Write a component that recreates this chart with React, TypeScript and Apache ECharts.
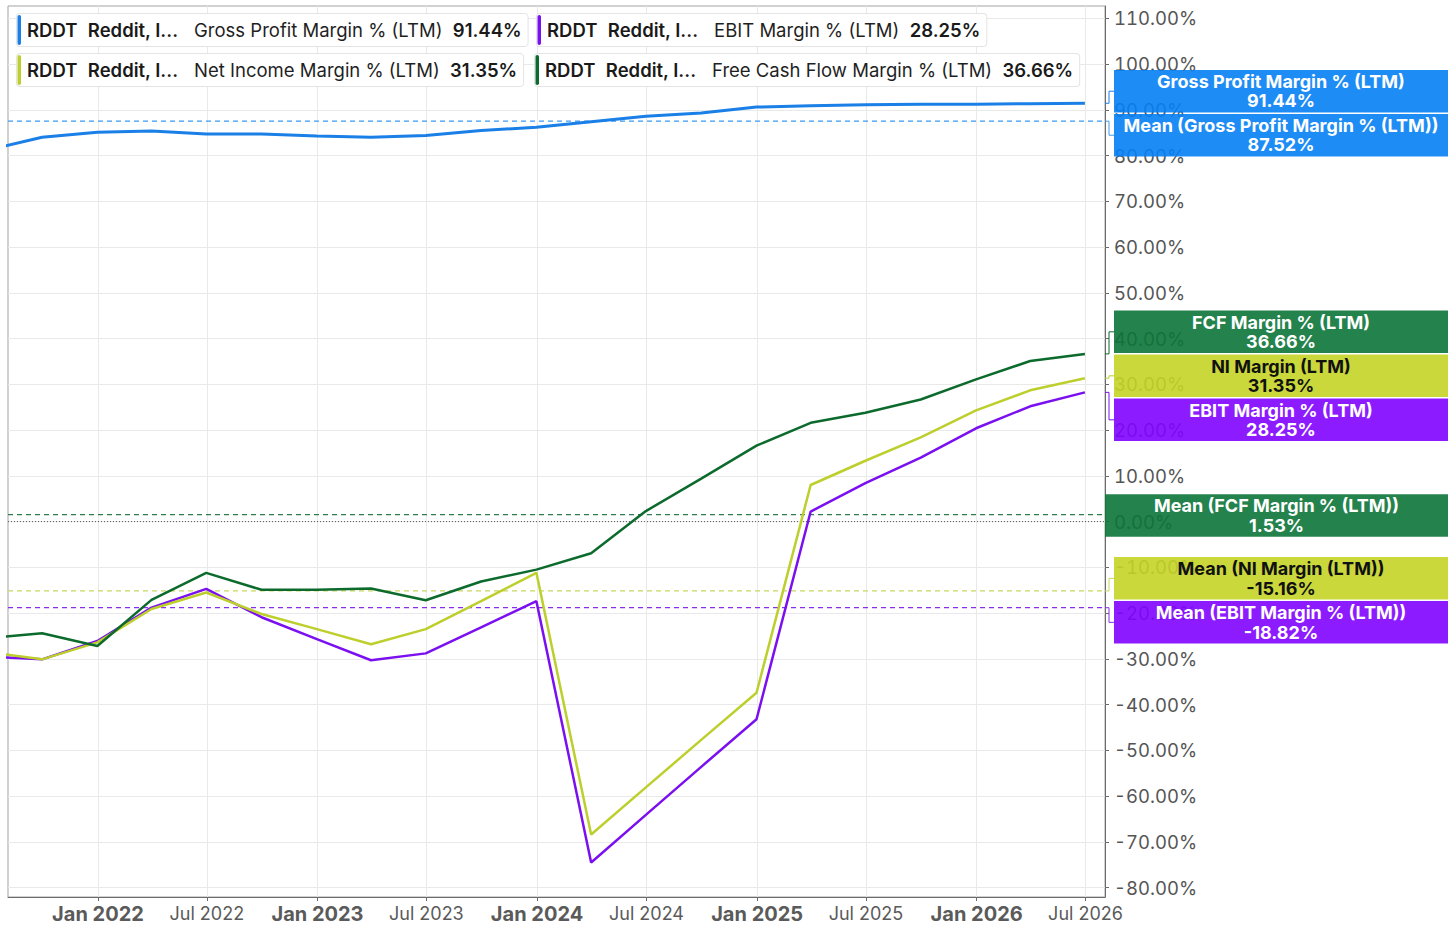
import React, { useEffect, useRef } from "react";
import * as echarts from "echarts";

// ---------- data ----------
const dates = [
  "2021-06-30", "2021-09-30", "2021-12-31", "2022-03-31", "2022-06-30", "2022-09-30",
  "2022-12-31", "2023-03-31", "2023-06-30", "2023-09-30", "2023-12-31", "2024-03-31",
  "2024-06-30", "2024-09-30", "2024-12-31", "2025-03-31", "2025-06-30", "2025-09-30",
  "2025-12-31", "2026-03-31", "2026-06-30",
];
const grossMargin = [81.15, 84.0, 85.1, 85.4, 84.7, 84.7, 84.3, 84.0, 84.4, 85.5, 86.2, 87.4, 88.6, 89.3, 90.6, 90.9, 91.1, 91.2, 91.2, 91.35, 91.44];
const ebitMargin = [-29.45, -30.1, -26.1, -18.8, -14.7, -20.9, -25.7, -30.3, -28.8, -23.1, -17.4, -74.5, -64.1, -53.6, -43.2, 2.2, 8.4, 14.0, 20.4, 25.2, 28.25];
const niMargin = [-28.5, -30.1, -26.4, -19.1, -15.5, -20.2, -23.5, -26.8, -23.5, -17.4, -11.2, -68.4, -58.1, -47.7, -37.4, 8.0, 13.3, 18.4, 24.3, 28.7, 31.35];
const fcfMargin = [-25.5, -24.4, -27.2, -17.1, -11.2, -14.9, -14.9, -14.6, -17.2, -13.1, -10.5, -6.9, 2.3, 9.4, 16.6, 21.6, 23.8, 26.7, 31.1, 35.1, 36.66];

const meanGross = 87.52;
const meanEbit = -18.82;
const meanNi = -15.16;
const meanFcf = 1.53;
const zeroLine = 0;

const xTickDates = [
  "2022-01-01", "2022-07-01", "2023-01-01", "2023-07-01", "2024-01-01",
  "2024-07-01", "2025-01-01", "2025-07-01", "2026-01-01", "2026-07-01",
];
const yTicks = [-80, -70, -60, -50, -40, -30, -20, -10, 0, 10, 20, 30, 40, 50, 60, 70, 80, 90, 100, 110];

const legendRows = [
  { ticker: "RDDT", company: "Reddit, I...", metric: "Gross Profit Margin % (LTM)", value: "91.44%" },
  { ticker: "RDDT", company: "Reddit, I...", metric: "EBIT Margin % (LTM)", value: "28.25%" },
  { ticker: "RDDT", company: "Reddit, I...", metric: "Net Income Margin % (LTM)", value: "31.35%" },
  { ticker: "RDDT", company: "Reddit, I...", metric: "Free Cash Flow Margin % (LTM)", value: "36.66%" },
];

// ---------- styles ----------
const FONT = "Inter, 'Noto Sans', sans-serif";
const FONT_TAB = "Inter, tabfake, sans-serif";
const C_BLUE = "#1a7fe6";
const C_PURPLE = "#7a10f0";
const C_YELLOW = "#bdcf2c";
const C_GREEN = "#0b6a2c";

const BOX_BLUE = "rgba(5,127,244,0.9)";
const BOX_PURPLE = "rgba(127,3,255,0.9)";
const BOX_YELLOW = "rgba(196,212,39,0.9)";
const BOX_GREEN = "rgba(12,116,56,0.9)";

const M_BLUE = "#3d9af2";
const M_PURPLE = "#8a2cf0";
const M_YELLOW = "#c9d760";
const M_GREEN = "#2e7d4f";

const ts = (s: string) => Date.parse(s + "T00:00:00Z");
const DAY = 86400000;
const X_MIN = ts("2022-01-01") - 149.6 * DAY;
const X_MAX = ts("2026-07-01") + 32.4 * DAY;

export default function App() {
  const ref = useRef<HTMLDivElement>(null);

  useEffect(() => {
    if (!ref.current) return;
    const chart = echarts.init(ref.current, undefined, { renderer: "svg" });

    const toPts = (vals: number[]) => vals.map((v, i) => [ts(dates[i]), v]);
    const xTicks = xTickDates.map(ts);

    const hLine = (name: string, v: number, color: string, type: any, width: number) => ({
      name,
      type: "line",
      data: [[X_MIN, v], [X_MAX, v]],
      showSymbol: false,
      silent: true,
      z: 1,
      lineStyle: { color, type, width },
      itemStyle: { color },
    });

    const option: any = {
      animation: false,
      grid: {
        left: 8, right: 351, top: 6, bottom: 41,
        show: true, borderColor: "#a3a3a3", borderWidth: 1,
      },
      xAxis: {
        type: "value",
        min: X_MIN,
        max: X_MAX,
        scale: true,
        axisLine: { show: true, onZero: false, lineStyle: { color: "#6b6b6b", width: 1 } },
        axisTick: { show: true, length: 4, lineStyle: { color: "#6b6b6b" }, customValues: xTicks },
        splitLine: { show: true, lineStyle: { color: "#e9e9e9", width: 1 } },
        axisLabel: {
          customValues: xTicks,
          margin: 7,
          formatter: (v: number) => {
            const d = new Date(v);
            const y = d.getUTCFullYear();
            return d.getUTCMonth() === 0 ? `{b|Jan ${y}}` : `{r|Jul ${y}}`;
          },
          rich: {
            b: { fontFamily: FONT, fontWeight: 700, fontSize: 20, color: "#5a5a5a" },
            r: { fontFamily: FONT, fontWeight: 400, fontSize: 18, color: "#5a5a5a" },
          },
        },
      },
      yAxis: {
        type: "value",
        position: "right",
        min: -82.05,
        max: 112.7,
        axisLine: { show: true, lineStyle: { color: "#6b6b6b", width: 1 } },
        axisTick: { show: true, length: 4, lineStyle: { color: "#6b6b6b" }, customValues: yTicks },
        splitLine: { show: true, lineStyle: { color: "#e9e9e9", width: 1 } },
        axisLabel: {
          customValues: yTicks,
          margin: 9,
          formatter: (v: number) => v.toFixed(2) + "%",
          fontFamily: FONT_TAB,
          fontSize: 18.5,
          color: "#555555",
        },
      },
      series: [
        hLine("Mean Gross", meanGross, M_BLUE, [5, 4], 1.2),
        hLine("Mean EBIT", meanEbit, M_PURPLE, [5, 4], 1.2),
        hLine("Mean NI", meanNi, M_YELLOW, [5, 4], 1.2),
        hLine("Mean FCF", meanFcf, M_GREEN, [5, 4], 1.2),
        hLine("Zero", zeroLine, "#555555", [1, 2], 1),
        {
          name: "Gross Profit Margin % (LTM)", type: "line", data: toPts(grossMargin), z: 3,
          showSymbol: false, lineStyle: { color: C_BLUE, width: 3 }, itemStyle: { color: C_BLUE },
        },
        {
          name: "EBIT Margin % (LTM)", type: "line", data: toPts(ebitMargin), z: 3,
          showSymbol: false, lineStyle: { color: C_PURPLE, width: 2.5 }, itemStyle: { color: C_PURPLE },
        },
        {
          name: "Net Income Margin % (LTM)", type: "line", data: toPts(niMargin), z: 3,
          showSymbol: false, lineStyle: { color: C_YELLOW, width: 2.5 }, itemStyle: { color: C_YELLOW },
        },
        {
          name: "Free Cash Flow Margin % (LTM)", type: "line", data: toPts(fcfMargin), z: 3,
          showSymbol: false, lineStyle: { color: C_GREEN, width: 2.5 }, itemStyle: { color: C_GREEN },
        },
      ],
    };
    chart.setOption(option);

    // ---------- right-side value boxes ----------
    const labels = [
      { name: "Gross Profit Margin % (LTM)", value: 91.44, box: BOX_BLUE, line: C_BLUE, text: "#ffffff" },
      { name: "Mean (Gross Profit Margin % (LTM))", value: meanGross, box: BOX_BLUE, line: M_BLUE, text: "#ffffff" },
      { name: "FCF Margin % (LTM)", value: 36.66, box: BOX_GREEN, line: C_GREEN, text: "#ffffff" },
      { name: "NI Margin (LTM)", value: 31.35, box: BOX_YELLOW, line: C_YELLOW, text: "#111111" },
      { name: "EBIT Margin % (LTM)", value: 28.25, box: BOX_PURPLE, line: C_PURPLE, text: "#ffffff" },
      { name: "Mean (FCF Margin % (LTM))", value: meanFcf, box: BOX_GREEN, line: M_GREEN, text: "#ffffff" },
      { name: "Mean (NI Margin (LTM))", value: meanNi, box: BOX_YELLOW, line: M_YELLOW, text: "#111111" },
      { name: "Mean (EBIT Margin % (LTM))", value: meanEbit, box: BOX_PURPLE, line: M_PURPLE, text: "#ffffff" },
    ];
    const axisX = chart.convertToPixel({ xAxisIndex: 0 } as any, X_MAX) as number;
    const items = labels
      .map((l) => ({ ...l, vy: chart.convertToPixel({ yAxisIndex: 0 } as any, l.value) as number, by: 0 }))
      .sort((a, b) => a.vy - b.vy);

    const H = 42.5;
    const STEP = 44;
    let groups = items.map((it) => ({ items: [it], center: it.vy }));
    let merged = true;
    while (merged) {
      merged = false;
      for (let i = 0; i < groups.length - 1; i++) {
        const a = groups[i];
        const b = groups[i + 1];
        const aBottom = a.center + (a.items.length * STEP) / 2;
        const bTop = b.center - (b.items.length * STEP) / 2;
        if (aBottom > bTop) {
          const all = a.items.concat(b.items);
          const c = all.reduce((s, it) => s + it.vy, 0) / all.length;
          groups.splice(i, 2, { items: all, center: c });
          merged = true;
          break;
        }
      }
    }
    groups.forEach((g) => {
      const top = g.center - (g.items.length * STEP) / 2 + 1;
      g.items.forEach((it, k) => {
        it.by = top + STEP * (k + 0.5);
      });
    });

    const RIGHT = 1448;
    const graphics: any[] = [];
    items.forEach((it) => {
      const shifted = Math.abs(it.by - it.vy) > 2;
      const bx = shifted ? axisX + 9 : axisX;
      if (shifted) {
        graphics.push({
          type: "polyline",
          z: 100,
          shape: { points: [[axisX, it.vy], [axisX + 4, it.vy], [axisX + 4, it.by], [bx, it.by]] },
          style: { stroke: it.line, fill: null, lineWidth: 1 },
        });
      }
      graphics.push({
        type: "rect",
        z: 100,
        shape: { x: bx, y: it.by - H / 2, width: RIGHT - bx, height: H },
        style: { fill: it.box },
      });
      graphics.push({
        type: "text",
        z: 101,
        x: (bx + RIGHT) / 2,
        y: it.by,
        style: {
          text: `${it.name}\n${it.value.toFixed(2)}%`,
          fill: it.text,
          fontFamily: FONT,
          fontWeight: 700,
          fontSize: 18,
          lineHeight: 19.5,
          align: "center",
          verticalAlign: "middle",
        },
      });
    });

    // ---------- legend chips ----------
    const chipPos = [
      { x: 17, y: 14, color: C_BLUE },
      { x: 537, y: 14, color: C_PURPLE },
      { x: 17, y: 54, color: C_YELLOW },
      { x: 535, y: 54, color: C_GREEN },
    ];
    legendRows.forEach((r, i) => {
      const p = chipPos[i];
      graphics.push({
        type: "text",
        z: 110,
        x: p.x,
        y: p.y,
        style: {
          text: `{b|${r.ticker}}  {b|${r.company}}   {r|${r.metric}}  {b|${r.value}}`,
          fontFamily: FONT,
          fontSize: 18.5,
          fill: "#1a1a1a",
          backgroundColor: "#ffffff",
          borderColor: "#e4e4e4",
          borderWidth: 1,
          borderRadius: 3,
          padding: [6, 6, 6, 10],
          lineHeight: 20,
          rich: {
            b: { fontFamily: FONT, fontWeight: 600, fontSize: 18.5, fill: "#1a1a1a", lineHeight: 20 },
            r: { fontFamily: FONT, fontWeight: 400, fontSize: 18.5, fill: "#1f1f1f", lineHeight: 20 },
          },
        },
      });
      graphics.push({
        type: "rect",
        z: 111,
        shape: { x: p.x + 0.5, y: p.y + 1, width: 3.5, height: 30, r: 2 },
        style: { fill: p.color },
      });
    });

    chart.setOption({ graphic: graphics });

    return () => chart.dispose();
  }, []);

  return (
    <>
      <style>{`svg text[style*="tabfake"], svg text[font-family*="tabfake"] { font-variant-numeric: tabular-nums; }`}</style>
      <div
        ref={ref}
        style={{ position: "fixed", left: 0, top: 0, width: 1456, height: 938, background: "#ffffff" }}
      />
    </>
  );
}
